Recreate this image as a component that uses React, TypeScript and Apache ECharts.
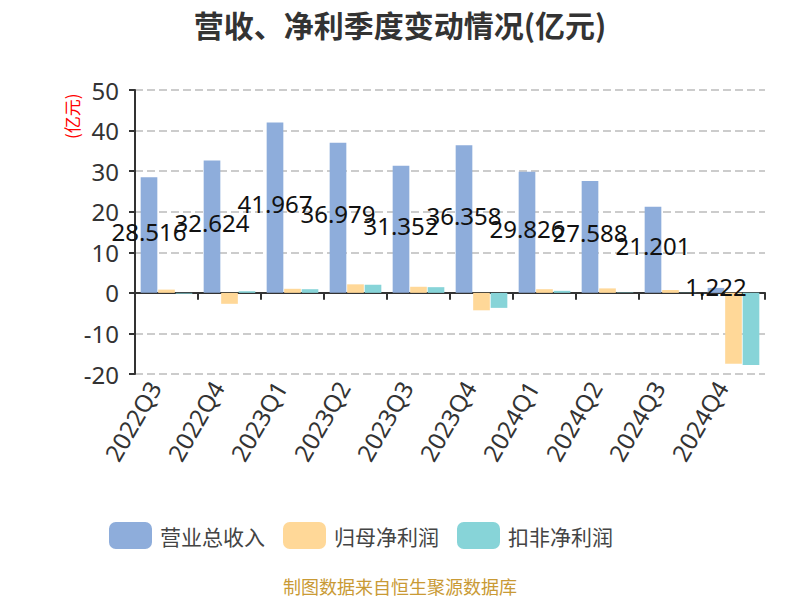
import React, { useEffect, useRef } from "react";
import * as echarts from "echarts";

const categories = ["2022Q3", "2022Q4", "2023Q1", "2023Q2", "2023Q3", "2023Q4", "2024Q1", "2024Q2", "2024Q3", "2024Q4"];
const revenue = [28.516, 32.624, 41.967, 36.979, 31.352, 36.358, 29.826, 27.588, 21.201, 1.222];
const netProfit = [0.8, -2.7, 1.0, 2.1, 1.5, -4.3, 0.9, 1.1, 0.7, -17.5];
const deductedProfit = [-0.2, 0.4, 0.9, 2.0, 1.4, -3.7, 0.5, 0.1, 0.05, -17.8];
const seriesNames = ["营业总收入", "归母净利润", "扣非净利润"];
const colors = ["#8eaddb", "#ffd898", "#87d4d8"];

const FONT = '"Noto Sans", "Noto Sans CJK SC", sans-serif';
const CJK = '"Noto Sans CJK SC", sans-serif';

export default function App() {
  const ref = useRef<HTMLDivElement>(null);
  useEffect(() => {
    if (!ref.current) return;
    const chart = echarts.init(ref.current, undefined, { renderer: "svg" });
    chart.setOption({
      animation: false,
      color: colors,
      textStyle: { fontFamily: FONT },
      title: {
        text: "营收、净利季度变动情况(亿元)",
        left: "center",
        top: 4,
        textStyle: { fontSize: 30, fontWeight: "bold", color: "#333", fontFamily: CJK },
      },
      legend: {
        left: 104,
        top: 517,
        itemWidth: 43,
        itemHeight: 27,
        itemGap: 18,
        icon: "roundRect",
        textStyle: { fontSize: 21, color: "#444", fontFamily: CJK, padding: [0, 0, 0, 3] },
        data: seriesNames,
      },
      grid: [
        { left: 135, right: 35, top: 90, bottom: 226, containLabel: false },
        { left: 123, right: 47, top: 90, bottom: 226, containLabel: false },
      ],
      xAxis: [
        {
          type: "category",
          data: categories,
          gridIndex: 0,
          position: "bottom",
          axisLine: { show: true, onZero: true, lineStyle: { color: "#333", width: 2 } },
          axisTick: { show: true, length: 7, lineStyle: { color: "#333", width: 2 } },
          axisLabel: { show: false },
          splitLine: { show: false },
        },
        {
          type: "category",
          data: categories,
          gridIndex: 1,
          position: "bottom",
          axisLine: { show: false, onZero: false },
          axisTick: { show: false },
          axisLabel: { show: true, rotate: 60, fontSize: 24, color: "#333", margin: 9, interval: 0 },
          splitLine: { show: false },
        },
      ],
      yAxis: [
        {
          type: "value",
          gridIndex: 0,
          min: -20,
          max: 50,
          interval: 10,
          axisLine: { show: true, lineStyle: { color: "#333", width: 2 } },
          axisTick: { show: true, length: 6, lineStyle: { color: "#333", width: 2 } },
          axisLabel: { fontSize: 24, color: "#333", margin: 16 },
          splitLine: { show: true, lineStyle: { color: "#ccc", type: "dashed", width: 2 } },
        },
        {
          type: "value",
          gridIndex: 1,
          show: false,
          min: 0,
          max: 1,
        },
      ],
      graphic: [
        {
          type: "text",
          x: 63,
          y: 139,
          rotation: Math.PI / 2,
          style: { text: "(亿元)", fill: "#ff0000", fontSize: 17, fontFamily: CJK },
        },
        {
          type: "text",
          left: "center",
          top: 577,
          style: { text: "制图数据来自恒生聚源数据库", fill: "#c99a35", fontSize: 18, fontFamily: CJK },
        },
      ],
      series: [
        {
          name: seriesNames[0],
          type: "bar",
          data: revenue,
          barGap: "5%",
          barCategoryGap: "18%",
          label: { show: true, position: "inside", color: "#111", fontSize: 24, offset: [0, -4] },
          z: 2,
        },
        { name: seriesNames[1], type: "bar", data: netProfit, barGap: "5%", barCategoryGap: "18%" },
        { name: seriesNames[2], type: "bar", data: deductedProfit, barGap: "5%", barCategoryGap: "18%" },
      ],
    });
    return () => chart.dispose();
  }, []);
  return <div ref={ref} style={{ width: 800, height: 600, position: "absolute", left: 0, top: 0 }} />;
}
